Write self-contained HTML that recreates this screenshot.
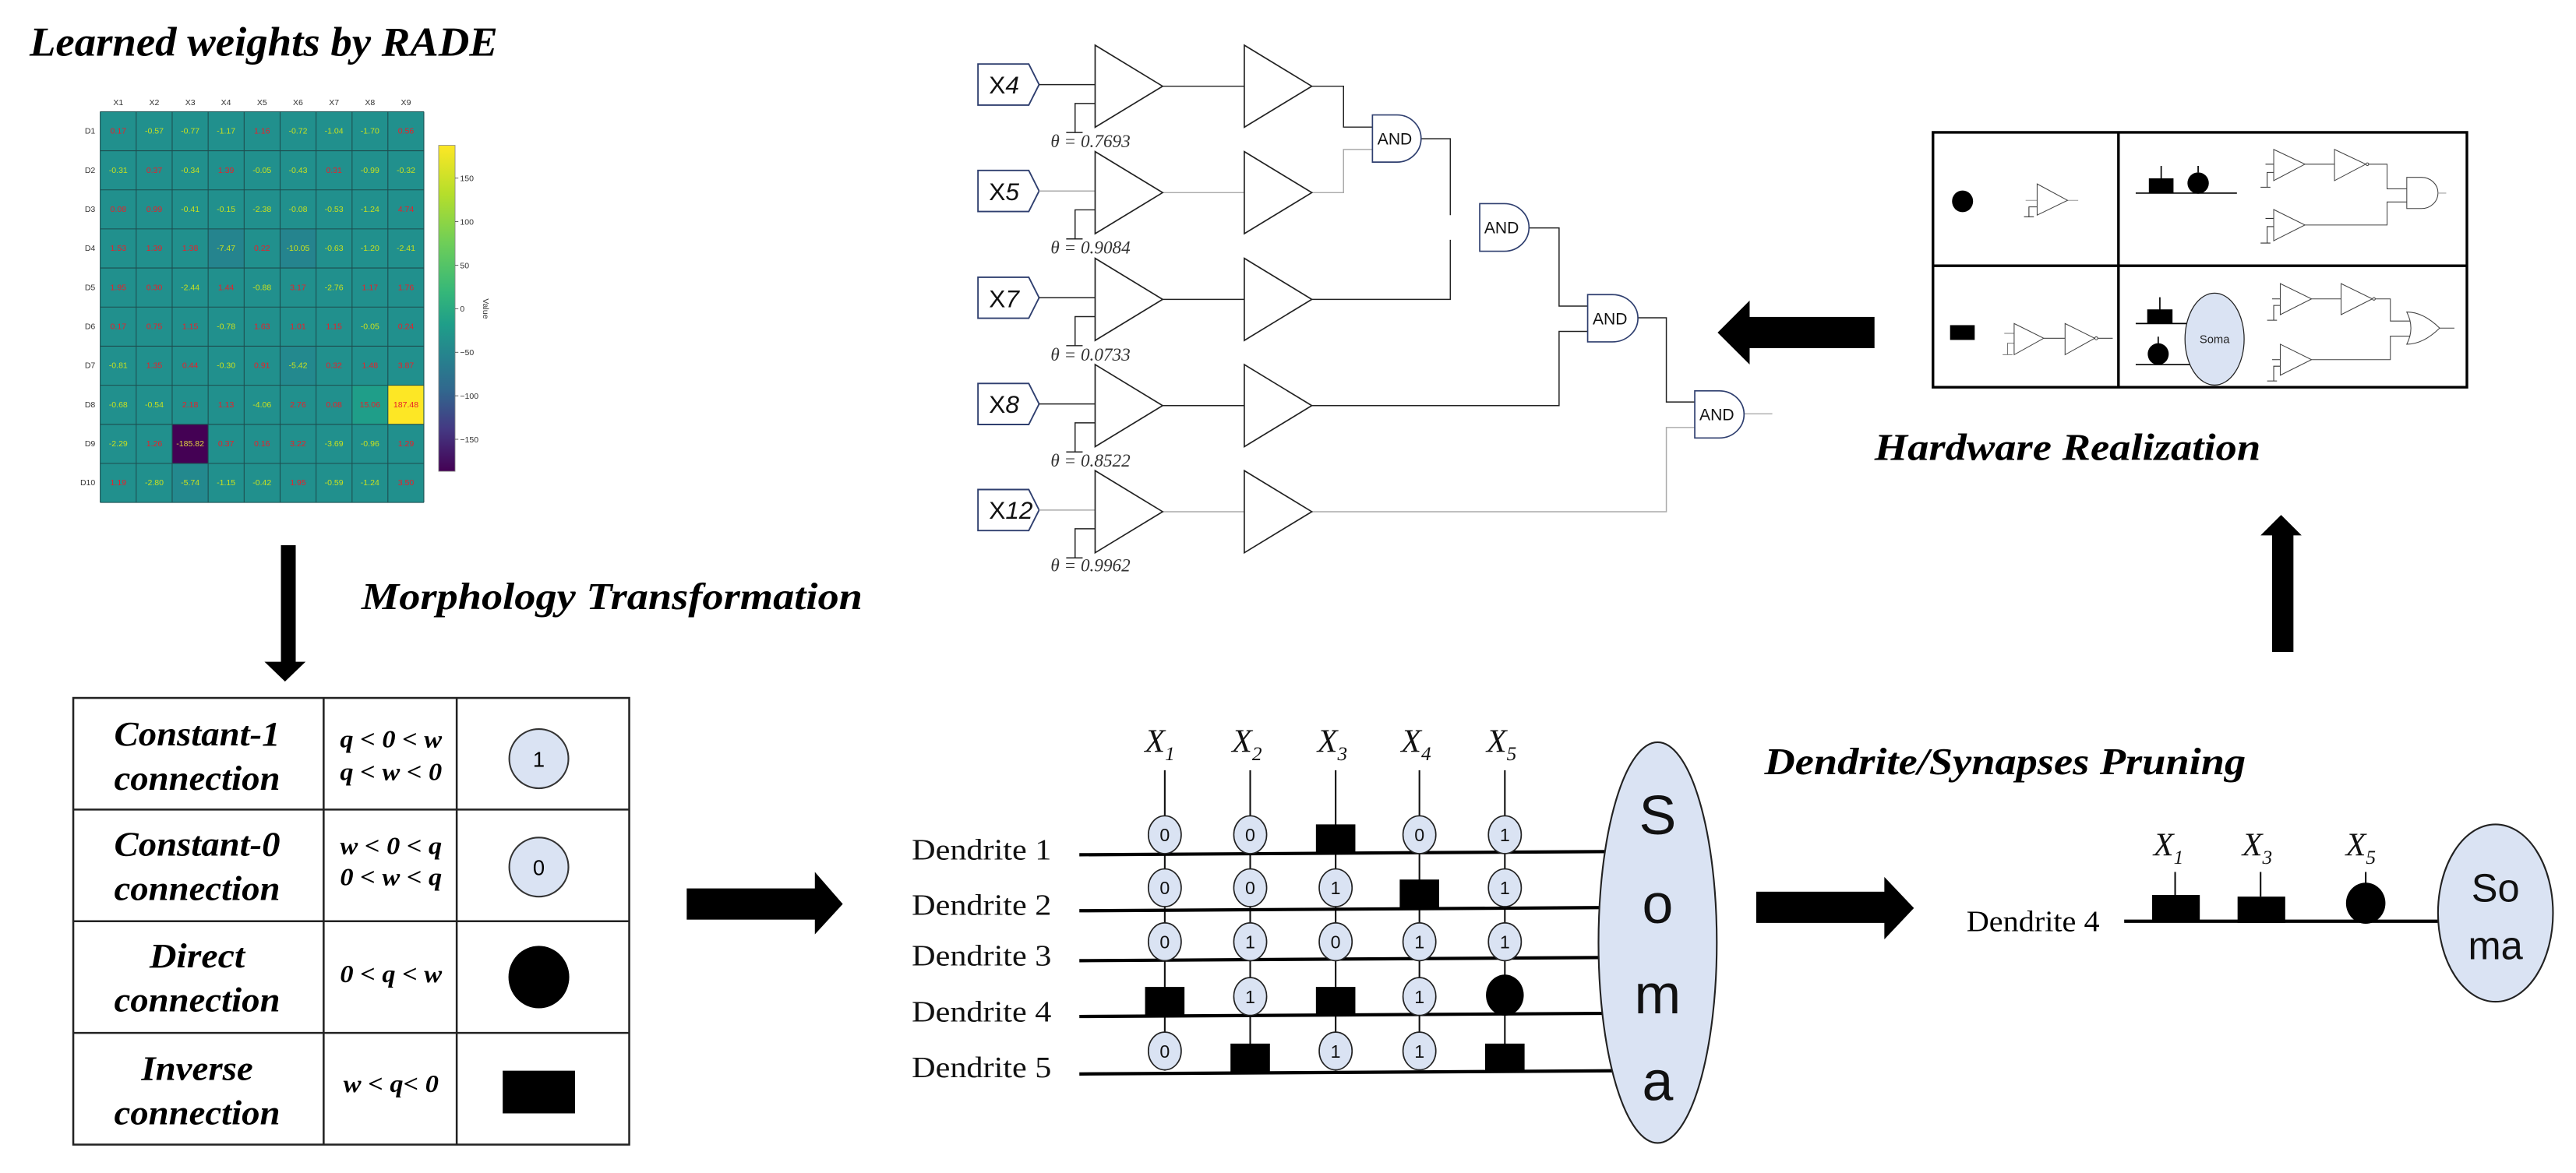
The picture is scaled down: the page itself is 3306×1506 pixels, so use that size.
<!DOCTYPE html>
<html><head><meta charset="utf-8"><style>
html,body{margin:0;padding:0;background:#fff;}
svg{display:block;}
.t{font-family:"Liberation Serif",serif;font-weight:bold;font-style:italic;}
.s{font-family:"Liberation Sans",sans-serif;}
.r{font-family:"Liberation Serif",serif;}
.hm text{font-family:"Liberation Sans",sans-serif;font-size:5px;text-anchor:middle;}
.p{fill:#e8202a;} .n{fill:#c8e020;}
</style></head><body>
<svg width="3306" height="1506" viewBox="0 0 1568 714.3" preserveAspectRatio="none" xmlns="http://www.w3.org/2000/svg">
<defs>
<linearGradient id="vir" x1="0" y1="0" x2="0" y2="1">
<stop offset="0" stop-color="#fde725"/><stop offset="0.15" stop-color="#b5de2b"/><stop offset="0.3" stop-color="#6ece58"/><stop offset="0.45" stop-color="#35b779"/><stop offset="0.55" stop-color="#1f9e89"/><stop offset="0.65" stop-color="#26828e"/><stop offset="0.75" stop-color="#31688e"/><stop offset="0.87" stop-color="#443983"/><stop offset="1" stop-color="#440154"/>
</linearGradient>
</defs>
<rect width="1568" height="714.3" fill="#fff"/>

<!-- Title 1 -->
<text class="t" x="18" y="34" font-size="25" textLength="285" lengthAdjust="spacingAndGlyphs">Learned weights by RADE</text>

<!-- Heatmap -->
<g class="hm">
<rect x="61" y="68" width="197" height="238" fill="#21908d"/>
<rect x="126.7" y="139.4" width="21.9" height="23.8" fill="#25848e"/>
<rect x="170.5" y="139.4" width="21.9" height="23.8" fill="#25848e"/>
<rect x="170.5" y="210.8" width="21.9" height="23.8" fill="#23898e"/>
<rect x="104.8" y="282.2" width="21.9" height="23.8" fill="#23898e"/>
<rect x="214.3" y="234.6" width="21.9" height="23.8" fill="#1f9e89"/>
<rect x="236.1" y="234.6" width="21.9" height="23.8" fill="#fde725"/>
<rect x="104.8" y="258.4" width="21.9" height="23.8" fill="#440154"/>
<g stroke="#1d4d4f" stroke-width="0.5">
<path d="M61 68V306M82.9 68V306M104.8 68V306M126.7 68V306M148.6 68V306M170.5 68V306M192.4 68V306M214.3 68V306M236.1 68V306M258 68V306"/>
<path d="M61 68H258M61 91.8H258M61 115.6H258M61 139.4H258M61 163.2H258M61 187H258M61 210.8H258M61 234.6H258M61 258.4H258M61 282.2H258M61 306H258"/>
</g>
<g fill="#333">
<text x="72" y="64">X1</text><text x="93.9" y="64">X2</text><text x="115.8" y="64">X3</text><text x="137.6" y="64">X4</text><text x="159.5" y="64">X5</text><text x="181.4" y="64">X6</text><text x="203.3" y="64">X7</text><text x="225.2" y="64">X8</text><text x="247.1" y="64">X9</text>
</g>
<g fill="#333" style="text-anchor:end">
<text x="58" y="81.4" style="text-anchor:end">D1</text><text x="58" y="105.2" style="text-anchor:end">D2</text><text x="58" y="129" style="text-anchor:end">D3</text><text x="58" y="152.8" style="text-anchor:end">D4</text><text x="58" y="176.6" style="text-anchor:end">D5</text><text x="58" y="200.4" style="text-anchor:end">D6</text><text x="58" y="224.2" style="text-anchor:end">D7</text><text x="58" y="248" style="text-anchor:end">D8</text><text x="58" y="271.8" style="text-anchor:end">D9</text><text x="58" y="295.6" style="text-anchor:end">D10</text>
</g>
<g transform="translate(0,81.4)"><text class="p" x="72">0.17</text><text class="n" x="93.9">-0.57</text><text class="n" x="115.8">-0.77</text><text class="n" x="137.6">-1.17</text><text class="p" x="159.5">1.16</text><text class="n" x="181.4">-0.72</text><text class="n" x="203.3">-1.04</text><text class="n" x="225.2">-1.70</text><text class="p" x="247.1">0.56</text></g>
<g transform="translate(0,105.2)"><text class="n" x="72">-0.31</text><text class="p" x="93.9">0.37</text><text class="n" x="115.8">-0.34</text><text class="p" x="137.6">1.39</text><text class="n" x="159.5">-0.05</text><text class="n" x="181.4">-0.43</text><text class="p" x="203.3">0.31</text><text class="n" x="225.2">-0.99</text><text class="n" x="247.1">-0.32</text></g>
<g transform="translate(0,129)"><text class="p" x="72">0.08</text><text class="p" x="93.9">0.99</text><text class="n" x="115.8">-0.41</text><text class="n" x="137.6">-0.15</text><text class="n" x="159.5">-2.38</text><text class="n" x="181.4">-0.08</text><text class="n" x="203.3">-0.53</text><text class="n" x="225.2">-1.24</text><text class="p" x="247.1">4.74</text></g>
<g transform="translate(0,152.8)"><text class="p" x="72">1.53</text><text class="p" x="93.9">1.39</text><text class="p" x="115.8">1.38</text><text class="n" x="137.6">-7.47</text><text class="p" x="159.5">0.22</text><text class="n" x="181.4">-10.05</text><text class="n" x="203.3">-0.63</text><text class="n" x="225.2">-1.20</text><text class="n" x="247.1">-2.41</text></g>
<g transform="translate(0,176.6)"><text class="p" x="72">1.95</text><text class="p" x="93.9">0.30</text><text class="n" x="115.8">-2.44</text><text class="p" x="137.6">1.44</text><text class="n" x="159.5">-0.88</text><text class="p" x="181.4">3.17</text><text class="n" x="203.3">-2.76</text><text class="p" x="225.2">1.17</text><text class="p" x="247.1">1.76</text></g>
<g transform="translate(0,200.4)"><text class="p" x="72">0.17</text><text class="p" x="93.9">0.75</text><text class="p" x="115.8">1.15</text><text class="n" x="137.6">-0.78</text><text class="p" x="159.5">1.63</text><text class="p" x="181.4">1.01</text><text class="p" x="203.3">1.15</text><text class="n" x="225.2">-0.05</text><text class="p" x="247.1">0.24</text></g>
<g transform="translate(0,224.2)"><text class="n" x="72">-0.81</text><text class="p" x="93.9">1.35</text><text class="p" x="115.8">0.44</text><text class="n" x="137.6">-0.30</text><text class="p" x="159.5">0.91</text><text class="n" x="181.4">-5.42</text><text class="p" x="203.3">0.32</text><text class="p" x="225.2">1.48</text><text class="p" x="247.1">3.87</text></g>
<g transform="translate(0,248)"><text class="n" x="72">-0.68</text><text class="n" x="93.9">-0.54</text><text class="p" x="115.8">2.18</text><text class="p" x="137.6">1.13</text><text class="n" x="159.5">-4.06</text><text class="p" x="181.4">2.76</text><text class="p" x="203.3">0.08</text><text class="p" x="225.2">15.06</text><text class="p" x="247.1">187.48</text></g>
<g transform="translate(0,271.8)"><text class="n" x="72">-2.29</text><text class="p" x="93.9">1.26</text><text class="n" x="115.8" style="fill:#e0d040">-185.82</text><text class="p" x="137.6">0.37</text><text class="p" x="159.5">0.16</text><text class="p" x="181.4">3.22</text><text class="n" x="203.3">-3.69</text><text class="n" x="225.2">-0.96</text><text class="p" x="247.1">1.29</text></g>
<g transform="translate(0,295.6)"><text class="p" x="72">1.19</text><text class="n" x="93.9">-2.80</text><text class="n" x="115.8">-5.74</text><text class="n" x="137.6">-1.15</text><text class="n" x="159.5">-0.42</text><text class="p" x="181.4">1.95</text><text class="n" x="203.3">-0.59</text><text class="n" x="225.2">-1.24</text><text class="p" x="247.1">3.50</text></g>
<rect x="267" y="88.5" width="10" height="198.5" fill="url(#vir)" stroke="#888" stroke-width="0.4"/>
<g stroke="#333" stroke-width="0.4"><path d="M277 108.5h2M277 135h2M277 161.5h2M277 188h2M277 214.5h2M277 241h2M277 267.5h2"/></g>
<g fill="#333" style="text-anchor:start">
<text x="280" y="110.3" style="text-anchor:start">150</text><text x="280" y="136.8" style="text-anchor:start">100</text><text x="280" y="163.3" style="text-anchor:start">50</text><text x="280" y="189.8" style="text-anchor:start">0</text><text x="280" y="216.3" style="text-anchor:start">−50</text><text x="280" y="242.8" style="text-anchor:start">−100</text><text x="280" y="269.3" style="text-anchor:start">−150</text>
<text x="0" y="0" transform="translate(294,188) rotate(90)">Value</text>
</g>
</g>

<!-- down arrow -->
<rect x="171" y="332" width="9" height="72" fill="#000"/>
<polygon points="161,403 186,403 173.5,415" fill="#000"/>
<text class="t" x="220" y="371" font-size="23" textLength="305" lengthAdjust="spacingAndGlyphs">Morphology Transformation</text>

<!-- Table -->
<g stroke="#222" stroke-width="1.2" fill="none">
<rect x="44.6" y="425" width="338.4" height="272"/>
<path d="M197 425V697M278 425V697M44.6 493H383M44.6 561H383M44.6 629H383"/>
</g>
<g class="t" font-size="21" text-anchor="middle">
<text x="120" y="454" textLength="101" lengthAdjust="spacingAndGlyphs">Constant-1</text>
<text x="120" y="481" textLength="101" lengthAdjust="spacingAndGlyphs">connection</text>
<text x="120" y="521" textLength="101" lengthAdjust="spacingAndGlyphs">Constant-0</text>
<text x="120" y="548" textLength="101" lengthAdjust="spacingAndGlyphs">connection</text>
<text x="120" y="589" textLength="58" lengthAdjust="spacingAndGlyphs">Direct</text>
<text x="120" y="616" textLength="101" lengthAdjust="spacingAndGlyphs">connection</text>
<text x="120" y="657.6" textLength="68" lengthAdjust="spacingAndGlyphs">Inverse</text>
<text x="120" y="684.6" textLength="101" lengthAdjust="spacingAndGlyphs">connection</text>
</g>
<g class="t" font-size="15" text-anchor="middle">
<text x="238" y="455" textLength="62" lengthAdjust="spacingAndGlyphs">q &lt; 0 &lt; w</text>
<text x="238" y="475" textLength="62" lengthAdjust="spacingAndGlyphs">q &lt; w &lt; 0</text>
<text x="238" y="520" textLength="62" lengthAdjust="spacingAndGlyphs">w &lt; 0 &lt; q</text>
<text x="238" y="539" textLength="62" lengthAdjust="spacingAndGlyphs">0 &lt; w &lt; q</text>
<text x="238" y="598" textLength="62" lengthAdjust="spacingAndGlyphs">0 &lt; q &lt; w</text>
<text x="238" y="665" textLength="58" lengthAdjust="spacingAndGlyphs">w &lt; q&lt; 0</text>
</g>
<circle cx="328" cy="462" r="18" fill="#dae3f3" stroke="#333" stroke-width="1"/>
<text class="s" x="328" y="467" font-size="13" text-anchor="middle">1</text>
<circle cx="328" cy="528" r="18" fill="#dae3f3" stroke="#333" stroke-width="1"/>
<text class="s" x="328" y="533" font-size="13" text-anchor="middle">0</text>
<ellipse cx="328" cy="595" rx="18.5" ry="19" fill="#000"/>
<rect x="306" y="652" width="44" height="26" fill="#000"/>

<!-- arrow right 1 -->
<rect x="418" y="541" width="80" height="19" fill="#000"/>
<polygon points="496,531 513,550.5 496,569" fill="#000"/>

<!-- Dendrite matrix -->
<g class="r" font-size="18" fill="#111">
<text x="555" y="523.5" textLength="85" lengthAdjust="spacingAndGlyphs">Dendrite 1</text>
<text x="555" y="557" textLength="85" lengthAdjust="spacingAndGlyphs">Dendrite 2</text>
<text x="555" y="588" textLength="85" lengthAdjust="spacingAndGlyphs">Dendrite 3</text>
<text x="555" y="622" textLength="85" lengthAdjust="spacingAndGlyphs">Dendrite 4</text>
<text x="555" y="656" textLength="85" lengthAdjust="spacingAndGlyphs">Dendrite 5</text>
</g>
<g class="r" font-size="20" font-style="italic" text-anchor="middle" fill="#111">
<text x="706" y="458">X<tspan font-size="12" dy="5">1</tspan></text>
<text x="759" y="458">X<tspan font-size="12" dy="5">2</tspan></text>
<text x="811" y="458">X<tspan font-size="12" dy="5">3</tspan></text>
<text x="862" y="458">X<tspan font-size="12" dy="5">4</tspan></text>
<text x="914" y="458">X<tspan font-size="12" dy="5">5</tspan></text>
</g>
<g stroke="#111" stroke-width="1">
<path d="M709 469V652M761 469V652M813 469V652M864 469V652M916 469V652"/>
</g>
<g stroke="#000" stroke-width="2">
<path d="M657 520.5L990 518.5M657 554.6L990 552.6M657 585L990 583M657 619L990 617M657 654L990 652"/>
</g>
<ellipse cx="1009" cy="574" rx="36" ry="122" fill="#dae3f3" stroke="#222" stroke-width="1"/>
<g class="s" font-size="34" text-anchor="middle" fill="#111">
<text x="1009" y="508">S</text><text x="1009" y="562">o</text><text x="1009" y="617">m</text><text x="1009" y="670">a</text>
</g>
<g fill="#dae3f3" stroke="#222" stroke-width="0.8">
<ellipse cx="709" cy="508.3" rx="10" ry="11.5"/><ellipse cx="761" cy="508.3" rx="10" ry="11.5"/><ellipse cx="864" cy="508.3" rx="10" ry="11.5"/><ellipse cx="916" cy="508.3" rx="10" ry="11.5"/>
<ellipse cx="709" cy="540.6" rx="10" ry="11.5"/><ellipse cx="761" cy="540.6" rx="10" ry="11.5"/><ellipse cx="813" cy="540.6" rx="10" ry="11.5"/><ellipse cx="916" cy="540.6" rx="10" ry="11.5"/>
<ellipse cx="709" cy="573.5" rx="10" ry="11.5"/><ellipse cx="761" cy="573.5" rx="10" ry="11.5"/><ellipse cx="813" cy="573.5" rx="10" ry="11.5"/><ellipse cx="864" cy="573.5" rx="10" ry="11.5"/><ellipse cx="916" cy="573.5" rx="10" ry="11.5"/>
<ellipse cx="761" cy="606.8" rx="10" ry="11.5"/><ellipse cx="864" cy="606.8" rx="10" ry="11.5"/>
<ellipse cx="709" cy="640" rx="10" ry="11.5"/><ellipse cx="813" cy="640" rx="10" ry="11.5"/><ellipse cx="864" cy="640" rx="10" ry="11.5"/>
</g>
<g class="s" font-size="11" text-anchor="middle" fill="#111">
<text x="709" y="512.3">0</text><text x="761" y="512.3">0</text><text x="864" y="512.3">0</text><text x="916" y="512.3">1</text>
<text x="709" y="544.6">0</text><text x="761" y="544.6">0</text><text x="813" y="544.6">1</text><text x="916" y="544.6">1</text>
<text x="709" y="577.5">0</text><text x="761" y="577.5">1</text><text x="813" y="577.5">0</text><text x="864" y="577.5">1</text><text x="916" y="577.5">1</text>
<text x="761" y="610.8">1</text><text x="864" y="610.8">1</text>
<text x="709" y="644">0</text><text x="813" y="644">1</text><text x="864" y="644">1</text>
</g>
<g fill="#000">
<rect x="801" y="502" width="24" height="17"/>
<rect x="852" y="535.6" width="24" height="17"/>
<rect x="697" y="601" width="24" height="17"/>
<rect x="801" y="601" width="24" height="17"/>
<ellipse cx="916" cy="606" rx="11.5" ry="12.5"/>
<rect x="749" y="635.5" width="24" height="17.5"/>
<rect x="904" y="635.5" width="24" height="17.5"/>
</g>

<!-- arrow right 2 -->
<rect x="1069" y="543" width="80" height="19" fill="#000"/>
<polygon points="1147,534 1165,553 1147,572" fill="#000"/>
<text class="t" x="1074" y="471.5" font-size="23" textLength="293" lengthAdjust="spacingAndGlyphs">Dendrite/Synapses Pruning</text>

<!-- Pruned -->
<text class="r" x="1197" y="567" font-size="18" textLength="81" lengthAdjust="spacingAndGlyphs">Dendrite 4</text>
<g class="r" font-size="20" font-style="italic" text-anchor="middle" fill="#111">
<text x="1320" y="521">X<tspan font-size="12" dy="5">1</tspan></text>
<text x="1374" y="521">X<tspan font-size="12" dy="5">3</tspan></text>
<text x="1437" y="521">X<tspan font-size="12" dy="5">5</tspan></text>
</g>
<path d="M1293 561H1486" stroke="#000" stroke-width="2"/>
<path d="M1324 531V546M1376 531V546M1440 531V540" stroke="#111" stroke-width="1"/>
<rect x="1310" y="545" width="29" height="16" fill="#000"/>
<rect x="1362" y="546" width="29" height="16" fill="#000"/>
<ellipse cx="1440" cy="550" rx="12" ry="12.5" fill="#000"/>
<ellipse cx="1519" cy="556" rx="35" ry="54" fill="#dae3f3" stroke="#222" stroke-width="1"/>
<g class="s" font-size="24" text-anchor="middle" fill="#111"><text x="1519" y="549">So</text><text x="1519" y="584">ma</text></g>

<!-- up arrow -->
<rect x="1383" y="325" width="13" height="72" fill="#000"/>
<polygon points="1376,326 1401,326 1388.5,313.6" fill="#000"/>
<text class="t" x="1141" y="280" font-size="23" textLength="235" lengthAdjust="spacingAndGlyphs">Hardware Realization</text>

<!-- left arrow -->
<rect x="1064" y="193" width="77" height="19" fill="#000"/>
<polygon points="1065,183 1065,222 1045.5,202.5" fill="#000"/>

<!-- Hardware box -->
<g stroke="#000" stroke-width="1.6" fill="none">
<rect x="1176.6" y="80.6" width="325" height="155.2"/>
<path d="M1289.5 80.6V235.8M1176.6 161.8H1501.5"/>
</g>
<g stroke="#444" stroke-width="0.5" fill="#fff">
<!-- TL -->
<path d="M1233 122H1240M1258.5 122H1265" stroke="#999" fill="none"/>
<path d="M1240 126H1235V132M1232 132H1238" stroke="#333" fill="none"/>
<polygon points="1240,112 1258.5,122 1240,131"/>
<!-- BL -->
<path d="M1220 203H1226M1226 209H1222V216M1219 216H1225" fill="none" stroke="#777"/>
<polygon points="1226,197 1244,206 1226,216"/>
<path d="M1244 206H1257M1277 206H1286" fill="none"/>
<polygon points="1257,197 1275,206 1257,216"/>
<circle cx="1276" cy="206" r="0.9"/>
<!-- TR gates -->
<path d="M1379 100H1384M1384 105H1380V114M1376 114H1382" fill="none" stroke="#333"/>
<polygon points="1384,91 1403,100 1384,110"/>
<path d="M1403 100H1421M1441 100H1453V115H1465" fill="none"/>
<polygon points="1421,91 1440,100 1421,110"/>
<circle cx="1441" cy="100" r="0.8"/>
<path d="M1379 133H1384M1384 138H1380V148M1376 148H1382" fill="none" stroke="#333"/>
<polygon points="1384,127.6 1403,137 1384,146.6"/>
<path d="M1403 137H1453V123H1465" fill="none"/>
<path d="M1465 108H1474A10 9.5 0 0 1 1474 127H1465Z"/>
<path d="M1484 117.6H1489" fill="none" stroke="#999"/>
<!-- BR gates -->
<path d="M1383 182H1388M1388 186H1384V195M1380 195H1386" fill="none" stroke="#333"/>
<polygon points="1388,172.7 1407,182 1388,191.6"/>
<path d="M1407 182H1425M1445 182H1455V195.5H1467" fill="none"/>
<polygon points="1425,172.7 1444,182 1425,191.6"/>
<circle cx="1445" cy="182" r="0.8"/>
<path d="M1383 219H1388M1388 223H1384V232M1380 232H1386" fill="none" stroke="#333"/>
<polygon points="1388,209.6 1407,219 1388,228.5"/>
<path d="M1407 219H1455V204.7H1467" fill="none"/>
<path d="M1465 190Q1475 190 1485 199.8Q1475 209.6 1465 209.6Q1470 199.8 1465 190Z"/>
<path d="M1485 199.8H1494" fill="none"/>
</g>
<!-- TR synapse -->
<path d="M1300 117.6H1361.6" stroke="#000" stroke-width="0.8"/>
<path d="M1315.5 101V109M1338 101V105" stroke="#000" stroke-width="0.8"/>
<rect x="1308" y="108.6" width="15" height="9" fill="#000"/>
<ellipse cx="1338" cy="111.5" rx="6.5" ry="6.5" fill="#000"/>
<ellipse cx="1194.6" cy="122.6" rx="6.4" ry="6.6" fill="#000"/>
<rect x="1187" y="198" width="15" height="9" fill="#000"/>
<!-- BR synapse -->
<path d="M1300 197H1334M1300 222H1334" stroke="#000" stroke-width="0.8"/>
<path d="M1314.7 181V189M1313.7 205V210" stroke="#000" stroke-width="0.8"/>
<rect x="1307" y="188.4" width="15.4" height="8.6" fill="#000"/>
<ellipse cx="1313.7" cy="215.6" rx="6.4" ry="6.6" fill="#000"/>
<ellipse cx="1348" cy="206.5" rx="18" ry="28" fill="#dae3f3" stroke="#222" stroke-width="0.6"/>
<text class="s" x="1348" y="209" font-size="7" text-anchor="middle" fill="#222">Soma</text>

<!-- Circuit (top middle) -->
<g stroke="#2f3f6f" stroke-width="0.9" fill="#fff">
<polygon points="595.3,39 626.2,39 632.5,51.5 626.2,64 595.3,64"/>
<polygon points="595.3,103.8 626.2,103.8 632.5,116.3 626.2,128.8 595.3,128.8"/>
<polygon points="595.3,168.8 626.2,168.8 632.5,181.3 626.2,193.8 595.3,193.8"/>
<polygon points="595.3,233.5 626.2,233.5 632.5,246 626.2,258.5 595.3,258.5"/>
<polygon points="595.3,298.1 626.2,298.1 632.5,310.6 626.2,323.1 595.3,323.1"/>
</g>
<g class="s" font-size="15" fill="#111">
<text x="602" y="57">X<tspan font-style="italic">4</tspan></text>
<text x="602" y="122">X<tspan font-style="italic">5</tspan></text>
<text x="602" y="187">X<tspan font-style="italic">7</tspan></text>
<text x="602" y="251.5">X<tspan font-style="italic">8</tspan></text>
<text x="602" y="316">X<tspan font-style="italic">12</tspan></text>
</g>
<g stroke="#222" stroke-width="0.7" fill="none">
<path d="M632.5 51.5H666.6M707.7 52.5H757.4M798.5 52.5H817.8V77.4H835.4"/>
<path d="M632.5 181.3H666.6M707.7 182.3H757.4M798.5 182.3H882.8V146"/>
<path d="M632.5 246H666.6M707.7 247H757.4M798.5 247H949V201.8H966.4"/>
<path d="M865 84.5H882.8V131"/>
<path d="M930.7 138.8H949V186.4H966.4"/>
<path d="M997 193.5H1014.3V244.8H1031.6"/>
</g>
<g stroke="#aaa" stroke-width="0.7" fill="none">
<path d="M632.5 116.3H666.6M707.7 117.3H757.4M798.5 117.3H817.8V91H835.4"/>
<path d="M632.5 310.6H666.6M707.7 311.6H757.4M798.5 311.6H1014.3V260.3H1031.6"/>
<path d="M1061.6 252H1078.8"/>
</g>
<g stroke="#222" stroke-width="0.8" fill="#fff">
<polygon points="666.6,27.5 707.7,52.5 666.6,77.5"/><polygon points="757.4,27.5 798.5,52.5 757.4,77.5"/>
<polygon points="666.6,92.3 707.7,117.3 666.6,142.3"/><polygon points="757.4,92.3 798.5,117.3 757.4,142.3"/>
<polygon points="666.6,157.3 707.7,182.3 666.6,207.3"/><polygon points="757.4,157.3 798.5,182.3 757.4,207.3"/>
<polygon points="666.6,222 707.7,247 666.6,272"/><polygon points="757.4,222 798.5,247 757.4,272"/>
<polygon points="666.6,286.6 707.7,311.6 666.6,336.6"/><polygon points="757.4,286.6 798.5,311.6 757.4,336.6"/>
</g>
<g stroke="#222" stroke-width="0.7" fill="none">
<path d="M666.6 63H654.4V80.7M649 80.7H659"/>
<path d="M666.6 127.8H654.4V145.5M649 145.5H659"/>
<path d="M666.6 192.8H654.4V210.5M649 210.5H659"/>
<path d="M666.6 257.5H654.4V275.2M649 275.2H659"/>
<path d="M666.6 322H654.4V339.7M649 339.7H659"/>
</g>
<g class="r" font-size="11" font-style="italic" fill="#333">
<text x="639.5" y="89.7">θ = 0.7693</text>
<text x="639.5" y="154.5">θ = 0.9084</text>
<text x="639.5" y="219.5">θ = 0.0733</text>
<text x="639.5" y="284">θ = 0.8522</text>
<text x="639.5" y="348">θ = 0.9962</text>
</g>
<g stroke="#2f3f6f" stroke-width="0.8" fill="#fff">
<path d="M835.4 70H850.4A14.6 14.35 0 0 1 850.4 98.7H835.4Z"/>
<path d="M900.7 124H915.7A15 14.5 0 0 1 915.7 153H900.7Z"/>
<path d="M966.4 179.4H981.4A15.6 14.4 0 0 1 981.4 208.2H966.4Z"/>
<path d="M1031.6 238H1046.6A15 14.35 0 0 1 1046.6 266.7H1031.6Z"/>
</g>
<g class="s" font-size="10" fill="#111" text-anchor="middle">
<text x="849" y="88">AND</text>
<text x="914" y="142">AND</text>
<text x="980" y="197.5">AND</text>
<text x="1045" y="256">AND</text>
</g>
</svg>
</body></html>
